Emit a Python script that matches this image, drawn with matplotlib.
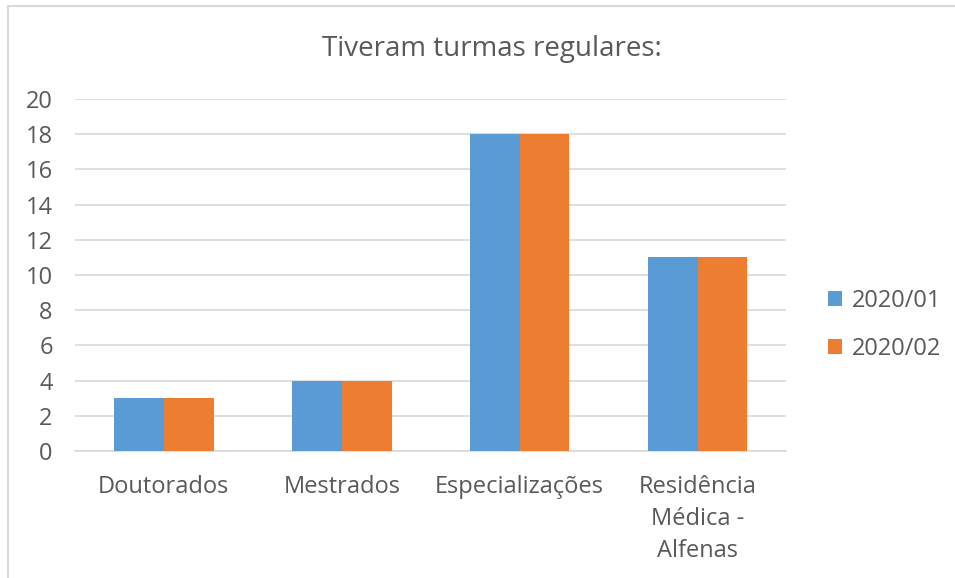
import numpy as np
import matplotlib.pyplot as plt
from matplotlib.patches import Rectangle

# Dados
categorias = ['Doutorados', 'Mestrados', 'Especializações', 'Residência\nMédica -\nAlfenas']
turmas_2020_01 = [3, 4, 18, 11]
turmas_2020_02 = [3, 4, 18, 11]
series = ['2020/01', '2020/02']

azul = '#5B9BD5'
laranja = '#ED7D31'
cinza_txt = '#595959'

plt.rcParams['font.family'] = ['Open Sans', 'DejaVu Sans']

fig = plt.figure(figsize=(9.55, 5.78), dpi=100)
ax = fig.add_axes([0.0785, 0.2197, 0.745, 0.609])

# Borda do gráfico
fig.patches.append(Rectangle((8 / 955, -0.1), 1.2, 1 - 6 / 578 + 0.1,
                             transform=fig.transFigure, fill=False,
                             edgecolor='#D9D9D9', linewidth=1.5))

x = np.arange(len(categorias))
w = 0.28
ax.bar(x - w / 2, turmas_2020_01, w, color=azul, label=series[0], zorder=3)
ax.bar(x + w / 2, turmas_2020_02, w, color=laranja, label=series[1], zorder=3)

ax.set_xlim(-0.5, len(categorias) - 0.5)
ax.set_ylim(0, 20)
ax.set_yticks(np.arange(0, 21, 2))
ax.grid(axis='y', color='#D9D9D9', linewidth=1.2, zorder=0)
for s in ['top', 'right', 'left']:
    ax.spines[s].set_visible(False)
ax.spines['bottom'].set_color('#D9D9D9')
ax.spines['bottom'].set_linewidth(1.2)
ax.tick_params(length=0, labelsize=17, labelcolor=cinza_txt)
ax.tick_params(axis='y', pad=16)
ax.tick_params(axis='x', pad=17)
ax.set_xticks(x)
ax.set_xticklabels(categorias, linespacing=1.45)

fig.text(0.515, 0.915, 'Tiveram turmas regulares:', ha='center', va='center',
         fontsize=20, color=cinza_txt)

leg = fig.legend(loc='center left', bbox_to_anchor=(828 / 955, 1 - 325 / 578),
                 frameon=False, borderpad=0, borderaxespad=0,
                 fontsize=17, labelcolor=cinza_txt, handlelength=0.6,
                 handleheight=0.6, handletextpad=0.4, labelspacing=1.0)

fig.savefig('out.png', dpi=100)
